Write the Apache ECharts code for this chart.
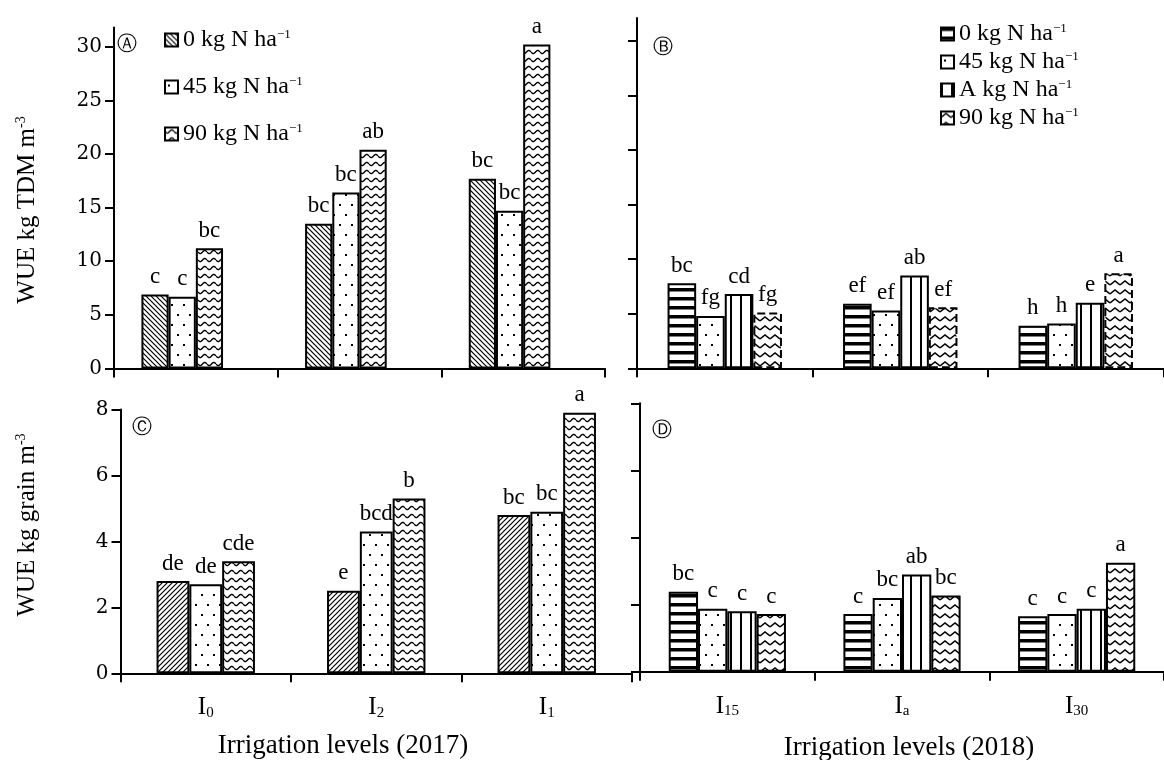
<!DOCTYPE html>
<html>
<head>
<meta charset="utf-8">
<title>WUE 2017 / 2018</title>
<script src="https://cdn.jsdelivr.net/npm/echarts@6.0.0/dist/echarts.min.js"></script>
<style>
html, body { margin: 0; padding: 0; background: #fff; }
#chart { width: 1164px; height: 760px; }
</style>
</head>
<body>
<div id="chart"></div>
<script>
// categories (first char is the letter, rest is the subscript)
var cats2017 = ['I0', 'I2', 'I1'];
var cats2018 = ['I15', 'Ia', 'I30'];
// nitrogen rates shown in the legends
var nRates2017 = ['0', '45', '90'];
var nRates2018 = ['0', '45', 'A', '90'];
var yTicksTdm = [0, 5, 10, 15, 20, 25, 30];
var yTicksGrain = [0, 2, 4, 6, 8];

// WUE kg TDM m-3
var tdm2017N0 = [6.9, 13.5, 17.7];
var tdm2017N45 = [6.7, 16.4, 14.7];
var tdm2017N90 = [11.2, 20.4, 30.2];
var tdm2018N0 = [7.8, 5.9, 3.9];
var tdm2018N45 = [4.8, 5.3, 4.1];
var tdm2018NA = [6.8, 8.5, 6.0];
var tdm2018N90 = [5.1, 5.6, 8.7];
// WUE kg grain m-3
var grain2017N0 = [2.8, 2.5, 4.8];
var grain2017N45 = [2.7, 4.3, 4.9];
var grain2017N90 = [3.4, 5.3, 7.9];
var grain2018N0 = [2.38, 1.72, 1.65];
var grain2018N45 = [1.88, 2.2, 1.72];
var grain2018NA = [1.8, 2.9, 1.88];
var grain2018N90 = [1.72, 2.27, 3.25];

// significance letters
var ltTdm2017N0 = ['c', 'bc', 'bc'];
var ltTdm2017N45 = ['c', 'bc', 'bc'];
var ltTdm2017N90 = ['bc', 'ab', 'a'];
var ltTdm2018N0 = ['bc', 'ef', 'h'];
var ltTdm2018N45 = ['fg', 'ef', 'h'];
var ltTdm2018NA = ['cd', 'ab', 'e'];
var ltTdm2018N90 = ['fg', 'ef', 'a'];
var ltGrain2017N0 = ['de', 'e', 'bc'];
var ltGrain2017N45 = ['de', 'bcd', 'bc'];
var ltGrain2017N90 = ['cde', 'b', 'a'];
var ltGrain2018N0 = ['bc', 'c', 'c'];
var ltGrain2018N45 = ['c', 'bc', 'c'];
var ltGrain2018NA = ['c', 'ab', 'c'];
var ltGrain2018N90 = ['c', 'bc', 'a'];

var SERIF = 'Liberation Serif, Times New Roman, serif';

// small canvas tiles used as bar fill patterns
function tile(w, h, draw) {
    var c = document.createElement('canvas');
    c.width = w;
    c.height = h;
    var ctx = c.getContext('2d');
    ctx.fillStyle = '#fff';
    ctx.fillRect(0, 0, w, h);
    ctx.fillStyle = '#000';
    ctx.strokeStyle = '#000';
    draw(ctx, w, h);
    return { image: c, repeat: 'repeat' };
}
var patDiagDown = tile(5, 5, function (ctx) {
    ctx.lineWidth = 1.2;
    ctx.beginPath();
    ctx.moveTo(-1, -1); ctx.lineTo(6, 6);
    ctx.moveTo(-1, 4); ctx.lineTo(1, 6);
    ctx.moveTo(4, -1); ctx.lineTo(6, 1);
    ctx.stroke();
});
var patDiagUp = tile(5, 5, function (ctx) {
    ctx.lineWidth = 1.2;
    ctx.beginPath();
    ctx.moveTo(-1, 6); ctx.lineTo(6, -1);
    ctx.moveTo(-1, 1); ctx.lineTo(1, -1);
    ctx.moveTo(4, 6); ctx.lineTo(6, 4);
    ctx.stroke();
});
var patDots = tile(12, 20, function (ctx) {
    ctx.fillRect(3, 4, 2, 2);
    ctx.fillRect(9, 14, 2, 2);
});
var patWave = tile(9, 8, function (ctx, w) {
    ctx.lineWidth = 1.4;
    ctx.beginPath();
    for (var x = 0; x <= w; x += 0.5) {
        var y = 4 + 1.7 * Math.sin(2 * Math.PI * x / w);
        if (x === 0) ctx.moveTo(x, y); else ctx.lineTo(x, y);
    }
    ctx.stroke();
});
var patZig = tile(10, 9, function (ctx) {
    ctx.lineWidth = 1.6;
    ctx.beginPath();
    ctx.moveTo(0, 6); ctx.lineTo(5, 2); ctx.lineTo(10, 6);
    ctx.stroke();
});
var patHStripe = tile(4, 9, function (ctx) {
    ctx.fillRect(0, 0, 4, 3.5);
});
var patVStripe = tile(10, 4, function (ctx) {
    ctx.fillRect(0, 0, 2, 4);
});

function bar(name, idx, data, letters, fill, width, dashed) {
    return {
        name: name,
        type: 'bar',
        xAxisIndex: idx,
        yAxisIndex: idx,
        data: data,
        barWidth: width,
        barGap: '0%',
        itemStyle: {
            color: fill,
            borderColor: '#000',
            borderWidth: 2,
            borderType: dashed ? 'dashed' : 'solid'
        },
        label: {
            show: !!letters,
            position: 'top',
            distance: 6,
            color: '#000',
            fontFamily: SERIF,
            fontSize: 23,
            formatter: function (p) { return letters ? letters[p.dataIndex] : ''; }
        },
        emphasis: { disabled: true }
    };
}

function xAx(idx, cats, showLabel) {
    return {
        type: 'category',
        gridIndex: idx,
        data: cats,
        boundaryGap: true,
        axisLine: { show: true, lineStyle: { color: '#000', width: 2 } },
        axisTick: { show: true, length: 9, lineStyle: { color: '#000', width: 2 } },
        axisLabel: {
            show: showLabel,
            margin: 22,
            formatter: function (v) { return '{m|' + v.charAt(0) + '}{s|' + v.slice(1) + '}'; },
            rich: {
                m: { fontFamily: SERIF, fontSize: 25, color: '#000' },
                s: { fontFamily: SERIF, fontSize: 15, color: '#000', verticalAlign: 'bottom' }
            }
        },
        splitLine: { show: false }
    };
}

function yAx(idx, max, ticks, showLabel) {
    return {
        type: 'value',
        gridIndex: idx,
        min: 0,
        max: max,
        axisLine: { show: true, onZero: false, lineStyle: { color: '#000', width: 2 } },
        axisTick: { show: true, length: 9, customValues: ticks, lineStyle: { color: '#000', width: 2 } },
        axisLabel: {
            show: showLabel,
            customValues: ticks,
            margin: 12,
            color: '#000',
            fontFamily: 'DejaVu Serif',
            fontSize: 20
        },
        splitLine: { show: false }
    };
}

// legend text: "<rate> kg N ha^-1"
var legendText = {};
nRates2017.forEach(function (r) { legendText['y17_' + r] = r + ' kg N ha'; });
nRates2018.forEach(function (r) { legendText['y18_' + r] = r + ' kg N ha'; });
function legend(left, top, gap, names) {
    return {
        left: left,
        top: top,
        orient: 'vertical',
        itemGap: gap,
        itemWidth: 13,
        itemHeight: 13,
        icon: 'rect',
        selectedMode: false,
        data: names,
        formatter: function (n) { return '{t|' + legendText[n] + '}{s|\u22121}'; },
        textStyle: {
            rich: {
                t: { fontFamily: SERIF, fontSize: 24, color: '#000' },
                s: { fontFamily: SERIF, fontSize: 13, color: '#000', verticalAlign: 'top' }
            }
        }
    };
}

function rotTitle(x, y, main) {
    return {
        type: 'text',
        x: x,
        y: y,
        rotation: Math.PI / 2,
        style: {
            text: '{t|' + main + '}{s|-3}',
            align: 'center',
            verticalAlign: 'middle',
            rich: {
                t: { fontFamily: SERIF, fontSize: 25, fill: '#000' },
                s: { fontFamily: SERIF, fontSize: 14, fill: '#000', verticalAlign: 'top' }
            }
        }
    };
}
function plainText(x, y, txt, font) {
    return {
        type: 'text', x: x, y: y,
        style: { text: txt, font: font, fill: '#000', align: 'center', verticalAlign: 'middle' }
    };
}

var chart = echarts.init(document.getElementById('chart'), null, { renderer: 'canvas' });

var option = {
    animation: false,
    backgroundColor: '#fff',
    grid: [
        { left: 114, top: 27.4, width: 491, height: 341.1 },
        { left: 637, top: 18, width: 526.5, height: 350.3 },
        { left: 120.5, top: 409.5, width: 511.5, height: 263.8 },
        { left: 640, top: 403.3, width: 543, height: 268.4 }
    ],
    xAxis: [
        xAx(0, cats2017, false),
        xAx(1, cats2018, false),
        xAx(2, cats2017, true),
        xAx(3, cats2018, true)
    ],
    yAxis: [
        yAx(0, 31.8, yTicksTdm, true),
        yAx(1, 32.08, yTicksTdm, false),
        yAx(2, 8, yTicksGrain, true),
        yAx(3, 8, yTicksGrain, false)
    ],
    legend: [
        legend(159, 23, 23, nRates2017.map(function (r) { return 'y17_' + r; })),
        legend(935, 17, 4, nRates2018.map(function (r) { return 'y18_' + r; }))
    ],
    series: [
        // A: 2017 TDM (fourth slot is the unused "A" rate of 2018)
        bar('y17_0', 0, tdm2017N0, ltTdm2017N0, patDiagDown, 27.2),
        bar('y17_45', 0, tdm2017N45, ltTdm2017N45, patDots, 27.2),
        bar('y17_90', 0, tdm2017N90, ltTdm2017N90, patWave, 27.2),
        bar('y17_none', 0, [null, null, null], null, '#fff', 27.2),
        // B: 2018 TDM
        bar('y18_0', 1, tdm2018N0, ltTdm2018N0, patHStripe, 28.6),
        bar('y18_45', 1, tdm2018N45, ltTdm2018N45, patDots, 28.6),
        bar('y18_A', 1, tdm2018NA, ltTdm2018NA, patVStripe, 28.6),
        bar('y18_90', 1, tdm2018N90, ltTdm2018N90, patZig, 28.6, true),
        // C: 2017 grain
        bar('c17_0', 2, grain2017N0, ltGrain2017N0, patDiagUp, 32.8),
        bar('c17_45', 2, grain2017N45, ltGrain2017N45, patDots, 32.8),
        bar('c17_90', 2, grain2017N90, ltGrain2017N90, patWave, 32.8),
        // D: 2018 grain
        bar('d18_0', 3, grain2018N0, ltGrain2018N0, patHStripe, 29.3),
        bar('d18_45', 3, grain2018N45, ltGrain2018N45, patDots, 29.3),
        bar('d18_A', 3, grain2018NA, ltGrain2018NA, patVStripe, 29.3),
        bar('d18_90', 3, grain2018N90, ltGrain2018N90, patZig, 29.3)
    ],
    graphic: [
        rotTitle(27, 210, 'WUE kg TDM m'),
        rotTitle(27, 525, 'WUE kg grain m'),
        plainText(343, 746, 'Irrigation levels (2017)', '27px ' + SERIF),
        plainText(909, 748, 'Irrigation levels (2018)', '27px ' + SERIF),
        plainText(127, 45, '\u24B6', '20px DejaVu Sans'),
        plainText(663, 48, '\u24B7', '20px DejaVu Sans'),
        plainText(142, 428, '\u24B8', '20px DejaVu Sans'),
        plainText(662, 431, '\u24B9', '20px DejaVu Sans')
    ]
};

chart.setOption(option);
window.addEventListener('resize', function () {
    chart.resize();
});
</script>
</body>
</html>
